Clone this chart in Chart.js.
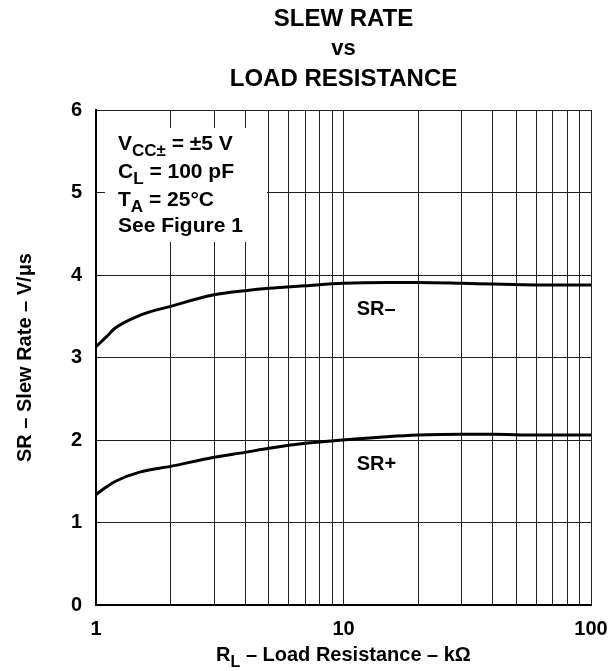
<!DOCTYPE html>
<html>
<head>
<meta charset="utf-8">
<script src="https://cdn.jsdelivr.net/npm/chart.js@4.4.0/dist/chart.umd.min.js"></script>
<style>
  html, body { margin: 0; padding: 0; background: #fff; }
</style>
</head>
<body>
<canvas id="chart" width="609" height="671"></canvas>
<script>
// load resistance in kOhm, slew rate in V/us
const loadRes = [1, 1.1, 1.2, 1.5, 2, 3, 4, 5, 7, 10, 15, 20, 30, 40, 60, 100];
const srMinus = [3.13, 3.25, 3.36, 3.51, 3.62, 3.76, 3.81, 3.84, 3.87, 3.90, 3.91, 3.91, 3.90, 3.89, 3.88, 3.88];
const srPlus  = [1.34, 1.43, 1.50, 1.61, 1.68, 1.79, 1.85, 1.90, 1.96, 2.00, 2.04, 2.06, 2.07, 2.07, 2.06, 2.06];

const gridX = [1, 2, 3, 4, 5, 6, 7, 8, 9, 10, 20, 30, 40, 50, 60, 70, 80, 90, 100];
const labelX = [1, 10, 100];
const yTicks = [0, 1, 2, 3, 4, 5, 6];

const FONT = "'Liberation Sans', Arial, Helvetica, sans-serif";

// draw a run of text pieces, some of them subscripted
function richWidth(ctx, parts, size) {
  let w = 0;
  parts.forEach(p => {
    ctx.font = "bold " + (p.sub ? Math.round(size * 0.8) : size) + "px " + FONT;
    w += ctx.measureText(p.t).width;
  });
  return w;
}
function drawRich(ctx, parts, x, y, size, align) {
  let w = richWidth(ctx, parts, size);
  let cx = align === "center" ? x - w / 2 : x;
  ctx.textAlign = "left";
  ctx.textBaseline = "alphabetic";
  parts.forEach(p => {
    let s = p.sub ? Math.round(size * 0.8) : size;
    ctx.font = "bold " + s + "px " + FONT;
    ctx.fillText(p.t, cx, y + (p.sub ? size * 0.28 : 0));
    cx += ctx.measureText(p.t).width;
  });
}

const notePlugin = {
  id: "notes",
  beforeDatasetsDraw(chart) {
    const ctx = chart.ctx;
    const a = chart.chartArea;
    ctx.save();
    // blank panel behind the test conditions
    ctx.fillStyle = "#fff";
    ctx.fillRect(a.left + 9, a.top + 18, 162, 114);
    ctx.fillStyle = "#000";
    const x0 = a.left + 22;
    drawRich(ctx, [{t: "V"}, {t: "CC\u00b1", sub: true}, {t: " = \u00b15 V"}], x0, a.top + 40, 21);
    drawRich(ctx, [{t: "C"}, {t: "L", sub: true}, {t: " = 100 pF"}], x0, a.top + 68, 21);
    drawRich(ctx, [{t: "T"}, {t: "A", sub: true}, {t: " = 25\u00b0C"}], x0, a.top + 96, 21);
    drawRich(ctx, [{t: "See Figure 1"}], x0, a.top + 122, 21);
    ctx.restore();
  },
  afterDatasetsDraw(chart) {
    const ctx = chart.ctx;
    const xs = chart.scales.x, ys = chart.scales.y;
    ctx.save();
    ctx.fillStyle = "#000";
    ctx.font = "bold 20px " + FONT;
    ctx.textAlign = "left";
    ctx.textBaseline = "middle";
    ctx.fillText("SR\u2013", xs.getPixelForValue(11.3), ys.getPixelForValue(3.58));
    ctx.fillText("SR+", xs.getPixelForValue(11.3), ys.getPixelForValue(1.7));
    // decade labels under the log axis
    ctx.textAlign = "center";
    labelX.forEach(v => ctx.fillText(String(v), xs.getPixelForValue(v), xs.bottom - xs.height + 24));
    ctx.restore();
  },
  afterDraw(chart) {
    const ctx = chart.ctx;
    const a = chart.chartArea;
    const cx = (a.left + a.right) / 2;
    ctx.save();
    ctx.fillStyle = "#000";
    // heading
    ctx.textAlign = "center";
    ctx.textBaseline = "alphabetic";
    ctx.font = "bold 24px " + FONT;
    ctx.fillText("SLEW RATE", cx, 26);
    ctx.font = "bold 22px " + FONT;
    ctx.fillText("vs", cx, 55);
    ctx.font = "bold 24px " + FONT;
    ctx.fillText("LOAD RESISTANCE", cx, 86);
    // x axis title
    drawRich(ctx, [{t: "R"}, {t: "L", sub: true}, {t: " \u2013 Load Resistance \u2013 k\u03a9"}], cx, 661, 20, "center");
    // y axis title
    ctx.translate(31, (a.top + a.bottom) / 2);
    ctx.rotate(-Math.PI / 2);
    drawRich(ctx, [{t: "SR \u2013 Slew Rate \u2013 V/\u03bcs"}], 0, 0, 20, "center");
    ctx.restore();
  }
};

new Chart(document.getElementById("chart"), {
  type: "line",
  data: {
    datasets: [
      {
        label: "SR-",
        data: loadRes.map((r, i) => ({x: r, y: srMinus[i]})),
        borderColor: "#000",
        borderWidth: 3,
        pointRadius: 0,
        cubicInterpolationMode: "monotone"
      },
      {
        label: "SR+",
        data: loadRes.map((r, i) => ({x: r, y: srPlus[i]})),
        borderColor: "#000",
        borderWidth: 3,
        pointRadius: 0,
        cubicInterpolationMode: "monotone"
      }
    ]
  },
  options: {
    responsive: false,
    animation: false,
    events: [],
    layout: {padding: {left: 46, top: 110, right: 18, bottom: 0}},
    plugins: {legend: {display: false}, tooltip: {enabled: false}},
    scales: {
      x: {
        type: "logarithmic",
        min: 1,
        max: 100,
        afterBuildTicks: scale => { scale.ticks = gridX.map(v => ({value: v})); },
        afterFit: scale => { scale.height = 66; },
        grid: {color: "#222", lineWidth: 1, drawTicks: false},
        border: {color: "#000", width: 2},
        ticks: {display: false}
      },
      y: {
        min: 0,
        max: 6,
        afterBuildTicks: scale => { scale.ticks = yTicks.map(v => ({value: v})); },
        afterFit: scale => { scale.width = 50; },
        grid: {color: "#222", lineWidth: 1, drawTicks: false},
        border: {color: "#000", width: 2},
        ticks: {
          padding: 14,
          color: "#000",
          font: {family: FONT, size: 20, weight: "bold"}
        }
      }
    }
  },
  plugins: [notePlugin]
});
</script>
</body>
</html>
